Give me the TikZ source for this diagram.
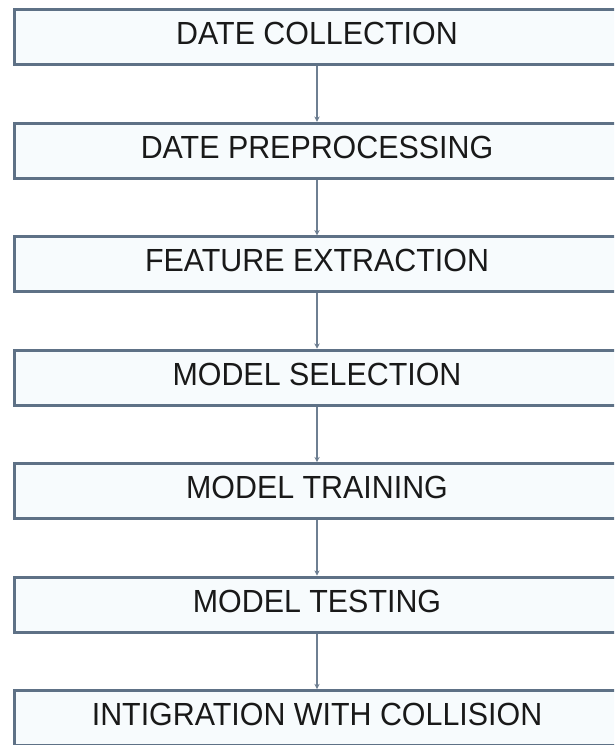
\documentclass[tikz,border=0pt]{standalone}
\usepackage{fontspec}
\setmainfont{Liberation Sans}[FakeStretch=0.95]
\usetikzlibrary{positioning,arrows.meta}
\definecolor{edge}{HTML}{5E7186}
\definecolor{boxfill}{HTML}{F7FBFD}

\begin{document}
\begin{tikzpicture}[
  node distance=41.6pt,
  blk/.style={draw=edge, line width=2.25pt, fill=boxfill, minimum width=454.5pt,
              minimum height=41.25pt, text height=17.25pt, text depth=6pt,
              inner sep=0pt, font=\fontsize{24}{28}\selectfont, text=black!90},
  arr/.style={-{Stealth[length=4pt,width=4pt]}, line width=1.3pt, draw=edge!90}
]
\useasboundingbox (0,0) rectangle (460.5pt,-558.75pt);
\clip (0,0) rectangle (460.5pt,-558.75pt);

\node[blk] (collect) at (237.75pt,-28pt) {DATE COLLECTION};
\node[blk, below=of collect] (prep)   {DATE PREPROCESSING};
\node[blk, below=of prep]    (feat)   {FEATURE EXTRACTION};
\node[blk, below=of feat]    (select) {MODEL SELECTION};
\node[blk, below=of select]  (train)  {MODEL TRAINING};
\node[blk, below=of train]   (test)   {MODEL TESTING};
\node[blk, below=of test]    (integ)  {INTIGRATION WITH COLLISION};

\draw[arr] (collect) -- (prep);
\draw[arr] (prep)    -- (feat);
\draw[arr] (feat)    -- (select);
\draw[arr] (select)  -- (train);
\draw[arr] (train)   -- (test);
\draw[arr] (test)    -- (integ);
\end{tikzpicture}
\end{document}
